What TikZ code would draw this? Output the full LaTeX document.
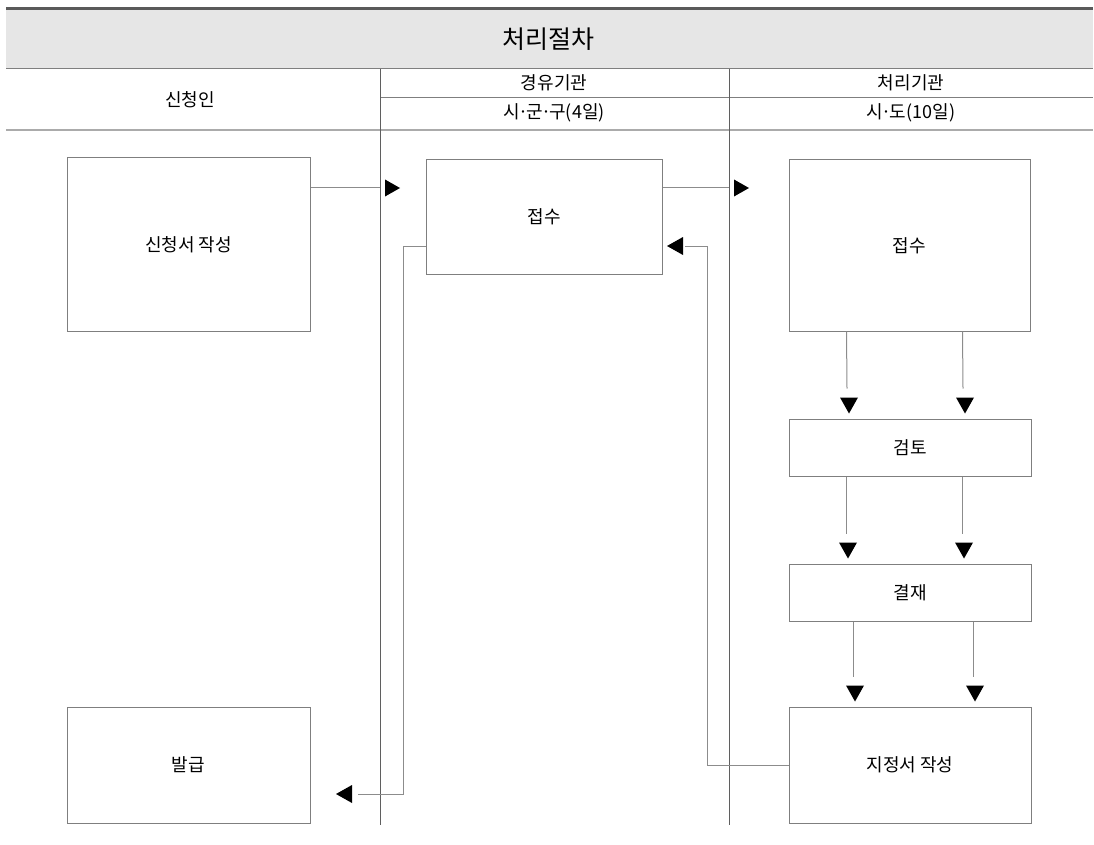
\documentclass[tikz,border=0pt]{standalone}
\usepackage{fontspec}
\setmainfont{Noto Sans CJK KR}
\usetikzlibrary{positioning}
\definecolor{bandgray}{HTML}{E6E6E6}
\definecolor{bargray}{HTML}{5A5A5A}
\definecolor{boxgray}{HTML}{7F7F7F}
\definecolor{linkgray}{HTML}{8C8C8C}
\definecolor{lanegray}{HTML}{5F5F5F}
\newcommand{\mdot}{\kern-.1em·\kern-.1em}
\tikzset{every node/.style={font=\fontsize{18}{21}\selectfont},
  box/.style={draw=boxgray,line width=1pt,inner sep=0pt},
  link/.style={draw=linkgray,line width=1pt},
  lane/.style={draw=lanegray,line width=1pt},
  rule/.style={draw=boxgray,line width=1pt},
  headR/.pic={\fill (0,-8.5) -- (15,0) -- (0,8.5) -- cycle;},
  headL/.pic={\fill (0,-9) -- (-16,0) -- (0,9) -- cycle;},
  headD/.pic={\fill (-9,0) -- (9,0) -- (0,16) -- cycle;}}
\begin{document}
\begin{tikzpicture}[x=1pt,y=-1pt]
\useasboundingbox (0,0) rectangle (1094,845);
% header
\fill[bandgray] (6,10) rectangle (1093,69);
\draw[bargray,line width=3pt] (6,8.5) -- (1093,8.5);
\node (title) at (548,39) {\fontsize{25}{28}\selectfont 처리절차};
\draw[rule] (6,69) -- (1093,69);
\draw[rule] (380,98) -- (1093,98);
\draw[draw=black!33,line width=2pt] (6,130.5) -- (1093,130.5);
\coordinate (laneA) at (380,69);\coordinate (laneB) at (729,69);
\draw[lane] (laneA) -- (380,825);\draw[lane] (laneB) -- (729,825);
\node (hA) at (190,100) {신청인};
\node (hB1) at (554,83) {경유기관};\node (hB2) at (554,113) {시\mdot 군\mdot 구(4일)};
\node (hC1) at (911,83) {처리기관};\node (hC2) at (911,113) {시\mdot 도(10일)};
% boxes
\node[box,minimum width=243pt,minimum height=173pt] (req) at (188.5,244.5) {신청서 작성};
\node[box,minimum width=243pt,minimum height=116pt] (issue) at (188.5,765) {발급};
\node[box,minimum width=236pt,minimum height=114pt] (recv1) at (544,217) {접수};
\node[box,minimum width=241pt,minimum height=171pt] (recv2) at (909.5,245.5) {접수};
\node[box,minimum width=242pt,minimum height=57pt] (review) at (910,447.5) {검토};
\node[box,minimum width=242pt,minimum height=57pt] (sign) at (910,592.5) {결재};
\node[box,minimum width=242pt,minimum height=116pt] (cert) at (910,765) {지정서 작성};
% connectors
\coordinate (rowA) at (0,188);\coordinate (rowB) at (0,246);
\draw[link] (req.east |- rowA) -- (laneA |- rowA);\pic at ([xshift=5pt]laneA |- rowA) {headR};
\draw[link] (recv1.east |- rowA) -- (laneB |- rowA);\pic at ([xshift=5pt]laneB |- rowA) {headR};
\coordinate (backR) at (707,246);\coordinate (backRend) at (685,246);
\draw[link] (cert.west) -| (backR) -- (backRend);\pic at (683,246) {headL};
\coordinate (backL) at (403,794);\coordinate (backLend) at (358,794);
\draw[link] (recv1.west |- rowB) -| (backL) -- (backLend);\pic at (352,794) {headL};
\foreach \a/\b/\d in {recv2/review/-63,recv2/review/53,review/sign/-64,review/sign/52,sign/cert/-57,sign/cert/63}{
  \draw[link] ([xshift=\d pt]\a.south) -- ([xshift=\d pt,yshift=30pt]\b.north);
  \pic at ([xshift=\d pt+2pt,yshift=21pt]\b.north) {headD};}
\end{tikzpicture}
\end{document}
